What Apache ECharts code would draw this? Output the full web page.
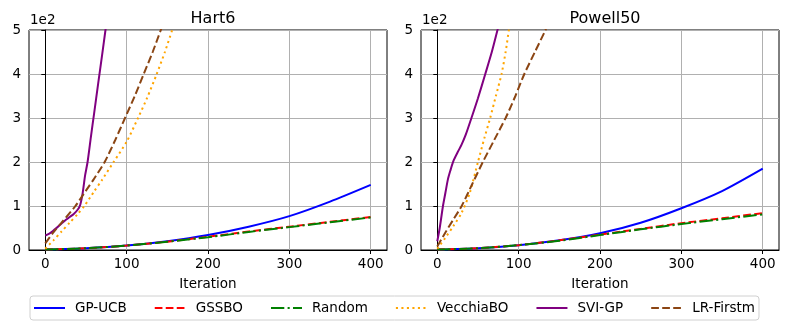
<!DOCTYPE html>
<html>
<head>
<meta charset="UTF-8">
<title>Hart6 / Powell50</title>
<script src="https://cdn.jsdelivr.net/npm/echarts@6/dist/echarts.min.js"></script>
</head>
<body style="margin:0;background:#fff">
<div id="main" style="width:788px;height:331px;"></div>
<script>
// data, [iteration, value]
var titles = ['Hart6', 'Powell50'];
var names = ['GP-UCB', 'GSSBO', 'Random', 'VecchiaBO', 'SVI-GP', 'LR-Firstm'];
var xTicks = [0, 100, 200, 300, 400];

// Hart6
var hart6GpUcb = [[0,1],[50,4],[100,10],[150,20],[200,34],[250,53],[300,77],[350,110],[400,148]];
var hart6Gssbo = [[0,1],[50,4],[100,10],[150,19],[200,30],[250,42],[300,53],[350,64],[400,75]];
var hart6Random = [[0,1],[50,4],[100,10],[150,19],[200,29],[250,41],[300,52],[350,63],[400,74]];
var hart6Vecchia = [[0,3],[10,22],[20,42],[30,62],[40,82],[48,100],[60,133],[70,160],[84,200],[100,246],[114,300],[125,345],[137,400],[147,450],[156,500],[160,522]];
var hart6Svi = [[0,33],[5,37],[10,44],[15,52],[20,60],[25,68],[30,75],[35,82],[40,92],[43,103],[46,130],[49,170],[52,200],[56,256],[60,310],[65,378],[70,445],[74,500],[76,525]];
var hart6Lr = [[0,15],[10,40],[20,62],[37,100],[50,135],[60,162],[73,200],[86,250],[98,300],[110,350],[121,400],[132,450],[142,500],[146,520]];

// Powell50
var powellGpUcb = [[0,1],[50,4],[100,11],[150,22],[200,38],[250,62],[300,95],[350,134],[400,185]];
var powellGssbo = [[0,1],[50,4],[100,11],[150,22],[200,35],[250,48],[300,61],[350,72],[400,84]];
var powellRandom = [[0,1],[50,4],[100,11],[150,21],[200,34],[250,47],[300,59],[350,70],[400,81]];
var powellVecchia = [[0,3],[10,28],[20,55],[30,85],[40,130],[50,200],[58,255],[65,300],[72,350],[79,400],[84,450],[88,500],[90,525]];
var powellSvi = [[0,20],[3,50],[7,100],[10,130],[13,160],[16,180],[20,203],[25,222],[30,240],[35,262],[42,300],[50,345],[59,400],[67,450],[74,500],[76,515]];
var powellLr = [[0,8],[10,40],[20,70],[30,100],[43,150],[56,200],[70,250],[84,300],[96,350],[107,400],[120,450],[133,500],[135,510]];

var colors = ['#0000ff', '#ff0000', '#008000', '#ffa500', '#800080', '#8b4513'];
var dashes = ['solid', [7.7, 3.3], [13.3, 3.3, 2.1, 3.3], [2.1, 3.4], 'solid', [7.7, 3.3]];
var font = 'DejaVu Sans';

var myChart = echarts.init(document.getElementById('main'));

function makeSeries(idx, data, k) {
	return {
		name: names[k],
		type: 'line',
		xAxisIndex: idx,
		yAxisIndex: idx,
		data: data,
		symbol: 'none',
		smooth: 0.25,
		clip: true,
		animation: false,
		lineStyle: { color: colors[k], width: 2, type: dashes[k], cap: 'butt' },
		itemStyle: { color: colors[k] }
	};
}

var panels = [
	[hart6GpUcb, hart6Gssbo, hart6Random, hart6Vecchia, hart6Svi, hart6Lr],
	[powellGpUcb, powellGssbo, powellRandom, powellVecchia, powellSvi, powellLr]
];
var lefts = [29, 421];

var series = [];
panels.forEach(function (p, i) {
	p.forEach(function (d, k) { series.push(makeSeries(i, d, k)); });
});

var option = {
	animation: false,
	backgroundColor: '#fff',
	title: titles.map(function (t, i) {
		return {
			text: t, left: lefts[i] + 179, top: 6, textAlign: 'center',
			textStyle: { fontFamily: font, fontSize: 16, fontWeight: 'normal', color: '#000' }
		};
	}),
	// the "1e2" offset text above each y axis
	graphic: lefts.map(function (l) {
		return {
			type: 'text', left: l + 1, top: 13,
			style: { text: '1e2', fontFamily: font, fontSize: 13.5, fill: '#000' }
		};
	}),
	legend: {
		data: names,
		left: 'center',
		top: 296,
		itemWidth: 31,
		itemHeight: 12,
		itemGap: 27,
		padding: [5, 4, 5, 3],
		borderColor: '#d0d0d0',
		borderWidth: 1,
		borderRadius: 3,
		itemStyle: { opacity: 0 },
		textStyle: { fontFamily: font, fontSize: 13.5, color: '#000', padding: [0, 0, 0, 5] }
	},
	grid: lefts.map(function (l) {
		return { left: l, top: 30, width: 358, height: 220, show: true, borderColor: '#000', borderWidth: 1, backgroundColor: 'transparent' };
	}),
	xAxis: lefts.map(function (l, i) {
		return {
			type: 'value', gridIndex: i, min: -20, max: 420,
			name: 'Iteration', nameLocation: 'middle', nameGap: 27,
			nameTextStyle: { fontFamily: font, fontSize: 13.5, color: '#000' },
			axisLine: { onZero: false, lineStyle: { color: '#000', width: 1 } },
			axisTick: { show: true, length: 4, inside: false, customValues: xTicks, lineStyle: { color: '#000' } },
			axisLabel: { customValues: xTicks, margin: 7, fontFamily: font, fontSize: 13.5, color: '#000' },
			splitLine: { show: true, lineStyle: { color: '#b0b0b0', width: 1 } }
		};
	}),
	yAxis: lefts.map(function (l, i) {
		return {
			type: 'value', gridIndex: i, min: 0, max: 500, interval: 100,
			axisLine: { show: true, lineStyle: { color: '#000', width: 1 } },
			axisTick: { show: true, length: 4, inside: false, lineStyle: { color: '#000' } },
			axisLabel: { margin: 8, fontFamily: font, fontSize: 13.5, color: '#000',
				formatter: function (v) { return String(v / 100); } },
			splitLine: { show: true, lineStyle: { color: '#b0b0b0', width: 1 } }
		};
	}),
	series: series
};

myChart.setOption(option);
</script>
</body>
</html>
